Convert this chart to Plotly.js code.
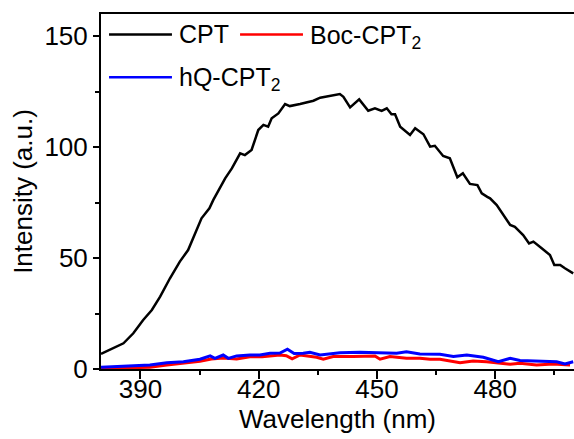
<!DOCTYPE html>
<html>
<head>
<meta charset="utf-8">
<script src="https://cdn.plot.ly/plotly-3.0.1.min.js"></script>
<style>html,body{margin:0;padding:0;background:#fff;}#chart{width:574px;height:439px;}</style>
</head>
<body>
<div id="chart"></div>
<script>
// Wavelength (nm) and intensity (a.u.)
const cptX = [380.0,383.1,385.7,388.2,390.7,392.9,395.0,397.5,400.0,402.1,403.8,405.5,407.5,408.5,411.5,413.2,415.3,416.5,418.2,419.9,421.2,422.4,423.3,425.0,426.7,427.9,430.5,432.2,433.9,435.6,438.1,440.6,441.5,443.2,445.5,447.8,449.5,451.2,452.5,453.7,454.6,455.9,458.4,459.7,461.8,463.5,464.7,466.8,468.5,470.4,471.8,473.6,475.5,476.6,478.0,478.7,480.4,482.1,483.8,485.0,487.1,488.6,489.7,491.8,493.9,495.0,496.5,497.7,499.8];
const cptY = [6.8,9.3,11.6,16.1,22.1,26.6,32.6,40.9,48.4,53.6,61.2,67.9,72.4,76.2,85.9,90.4,97.2,96.4,98.7,107.7,110.0,109.2,113.0,115.2,119.4,118.5,119.4,120.0,120.9,122.3,123.2,123.9,122.7,117.9,121.5,116.4,117.5,116.3,117.5,114.8,114.8,109.2,105.5,108.5,105.8,100.2,100.6,96.0,95.0,86.4,88.2,83.4,82.9,79.2,77.6,76.9,73.9,69.4,64.9,64.1,60.4,56.6,57.4,54.4,51.4,46.9,46.9,45.4,43.1];

const bocX = [380.0,386.0,392.4,396.7,400.9,405.1,408.0,411.0,414.4,417.8,420.9,423.0,425.4,427.0,428.5,430.5,434.7,436.4,438.9,444.0,449.5,450.8,453.3,457.5,460.9,463.5,466.0,471.1,474.4,477.8,480.4,483.8,486.3,490.5,494.7,499.0];
const bocY = [0.2,0.5,0.8,1.8,2.5,3.5,4.5,5.0,4.5,5.5,5.5,6.0,6.3,6.0,4.6,6.3,5.3,4.4,5.6,5.6,5.9,4.4,5.6,4.8,4.8,4.4,4.4,2.8,3.6,3.3,2.8,2.1,2.6,1.8,2.3,1.8];

const hqX = [380.0,386.0,392.4,396.7,400.9,405.1,407.7,408.9,411.0,412.3,414.4,417.8,420.3,422.9,425.4,427.3,429.0,431.3,433.0,435.6,438.9,440.6,445.7,450.8,455.0,457.5,460.9,466.0,469.4,472.8,477.0,480.8,483.8,486.3,491.4,495.6,497.7,499.8];
const hqY = [0.8,1.2,1.8,2.8,3.3,4.4,5.9,4.8,6.3,4.8,5.9,6.3,6.3,7.1,7.2,8.9,7.0,7.1,7.5,6.3,6.8,7.3,7.5,7.3,7.1,7.8,6.8,6.6,5.6,6.3,5.3,3.3,4.8,3.8,3.6,3.3,2.3,3.3];

const seriesNames = ['CPT', 'Boc-CPT<sub>2</sub>', 'hQ-CPT<sub>2</sub>'];
const seriesColors = ['#000000', '#ff0000', '#0000ff'];
const xTicks = [390, 420, 450, 480];
const yTicks = [0, 50, 100, 150];

const FONT = '"Liberation Sans", Arial, sans-serif';

const traces = [
  {x: cptX, y: cptY, name: seriesNames[0], mode: 'lines', line: {color: seriesColors[0], width: 2.5}},
  {x: bocX, y: bocY, name: seriesNames[1], mode: 'lines', line: {color: seriesColors[1], width: 3}},
  {x: hqX, y: hqY, name: seriesNames[2], mode: 'lines', line: {color: seriesColors[2], width: 3}}
];

// legend keys (paper coordinates)
const legendPos = [
  {x0: 0.017, x1: 0.150, y: 0.942, tx: 0.161},
  {x0: 0.294, x1: 0.427, y: 0.942, tx: 0.438},
  {x0: 0.017, x1: 0.150, y: 0.822, tx: 0.161}
];
const shapes = legendPos.map((p, i) => ({
  type: 'line', xref: 'paper', yref: 'paper', x0: p.x0, x1: p.x1, y0: p.y, y1: p.y,
  line: {color: seriesColors[i], width: 2.5}
}));
const annotations = legendPos.map((p, i) => ({
  xref: 'paper', yref: 'paper', x: p.tx, y: p.y, xanchor: 'left', yanchor: 'middle',
  text: seriesNames[i], showarrow: false, font: {family: FONT, size: 25, color: '#000'},
  yshift: i === 0 ? 1 : -2
}));

const layout = {
  width: 574, height: 439,
  margin: {l: 101, r: 0, t: 14, b: 70, pad: 0},
  paper_bgcolor: '#fff', plot_bgcolor: '#fff',
  showlegend: false,
  font: {family: FONT, size: 26, color: '#000'},
  xaxis: {
    range: [380, 500], tickvals: xTicks, ticktext: xTicks.map(String),
    ticks: 'outside', ticklen: 8, tickwidth: 2, tickcolor: '#000',
    ticklabelstandoff: -12,
    minor: {dtick: 15, tick0: 390, ticks: 'outside', ticklen: 4, tickwidth: 2, tickcolor: '#000', showgrid: false},
    showline: true, linewidth: 2, linecolor: '#000', mirror: true,
    showgrid: false, zeroline: false,
    tickfont: {family: FONT, size: 26, color: '#000'},
    title: {text: 'Wavelength (nm)', font: {family: FONT, size: 26, color: '#000'}, standoff: 7}
  },
  yaxis: {
    range: [0, 160], tickvals: yTicks, ticktext: yTicks.map(String),
    ticks: 'outside', ticklen: 6, tickwidth: 2, tickcolor: '#000',
    minor: {dtick: 25, tick0: 0, ticks: 'outside', ticklen: 4, tickwidth: 2, tickcolor: '#000', showgrid: false},
    showline: true, linewidth: 2, linecolor: '#000',
    showgrid: false, zeroline: false,
    tickfont: {family: FONT, size: 26, color: '#000'},
    title: {text: 'Intensity (a.u.)', font: {family: FONT, size: 26, color: '#000'}, standoff: 4}
  },
  shapes: shapes,
  annotations: annotations
};

Plotly.newPlot('chart', traces, layout, {displayModeBar: false, staticPlot: true});
</script>
</body>
</html>
